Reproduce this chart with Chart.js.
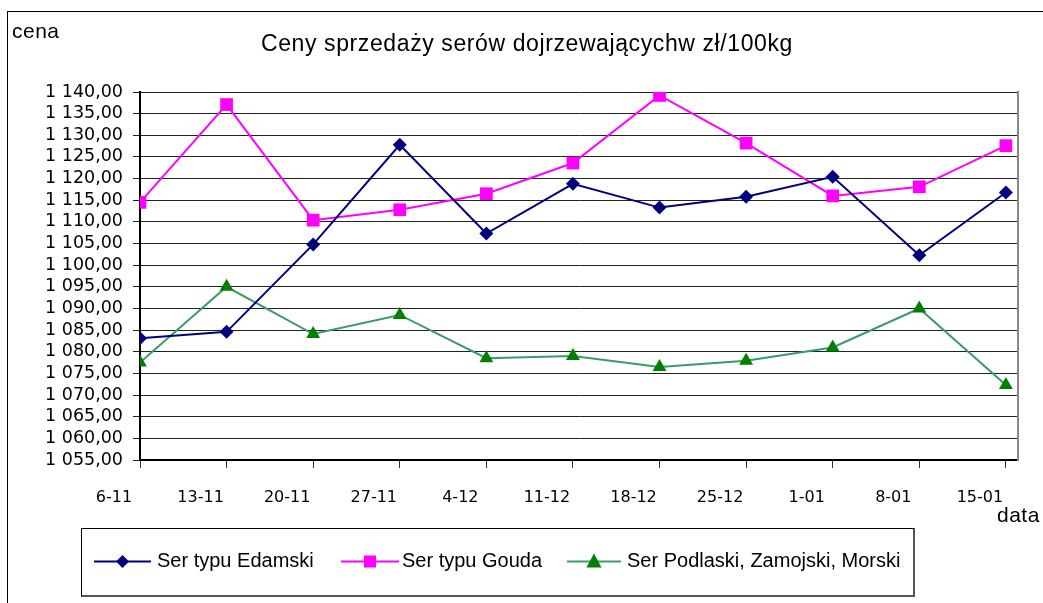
<!DOCTYPE html>
<html>
<head>
<meta charset="utf-8">
<script src="https://cdn.jsdelivr.net/npm/chart.js@4/dist/chart.umd.min.js"></script>
<style>
  body { margin: 0; background: #fff; }
  #wrap { position: relative; width: 1043px; height: 603px; overflow: hidden; }
  #frame { position: absolute; left: 7px; top: 11px; width: 1100px; height: 700px; border: 1.5px solid #000; }
  canvas { position: absolute; left: 0; top: 0; }
  .txt { position: absolute; white-space: nowrap; font-family: "Liberation Sans", Arial, sans-serif; line-height: 1; color: #000; }
  #title { left: 527px; top: 32px; font-size: 23px; letter-spacing: 0.6px; transform: translateX(-50%); }
  #cena { left: 12px; top: 20px; font-size: 21px; letter-spacing: 0.5px; }
  #data { left: 997px; top: 504px; font-size: 21px; letter-spacing: 0.5px; }
  #legend { position: absolute; left: 81px; top: 528px; width: 831px; height: 66px; border: 1px solid #000; border-right: 2px solid #555; border-bottom: 2px solid #555; }
  .leg { font-size: 20px; top: 550px; }
  svg { position: absolute; left: 0; top: 0; }
</style>
</head>
<body>
<div id="wrap">
  <div id="frame"></div>
  <canvas id="lineChart" width="1043" height="603"></canvas>
  <div class="txt" id="title">Ceny sprzedaży serów dojrzewającychw zł/100kg</div>
  <div class="txt" id="cena">cena</div>
  <div class="txt" id="data">data</div>
  <div id="legend"></div>
  <svg id="legSym" width="1043" height="603"></svg>
</div>
<script>
var labels = ['6-11', '13-11', '20-11', '27-11', '4-12', '11-12', '18-12', '25-12', '1-01', '8-01', '15-01'];
var edamski = [1083.1, 1084.6, 1104.8, 1127.8, 1107.3, 1118.8, 1113.3, 1115.8, 1120.4, 1102.3, 1116.8];
var gouda = [1114.5, 1137.1, 1110.4, 1112.8, 1116.5, 1123.6, 1139.2, 1128.2, 1116.0, 1118.1, 1127.6];
var podlaski = [1077.5, 1095.0, 1084.1, 1088.5, 1078.5, 1079.0, 1076.5, 1077.9, 1081.0, 1090.0, 1072.3];
var seriesNames = ['Ser typu Edamski', 'Ser typu Gouda', 'Ser Podlaski, Zamojski, Morski'];

function points(values) {
	return values.map((v, i) => ({ x: i, y: v }));
}

function fmt(v) {
	var t = Math.floor(v / 1000);
	var r = String(Math.round(v % 1000)).padStart(3, '0');
	return t + ' ' + r + ',00';
}

function lineChart() {
	var ctx = document.getElementById('lineChart').getContext('2d');
	return new Chart(ctx, {
		type: 'line',
		data: {
			datasets: [
				{
					label: seriesNames[0],
					data: points(edamski),
					borderColor: '#000080',
					backgroundColor: '#000080',
					borderWidth: 2,
					pointStyle: 'rectRot',
					pointRadius: 7,
					pointBorderWidth: 0
				},
				{
					label: seriesNames[1],
					data: points(gouda),
					borderColor: '#ff00ff',
					backgroundColor: '#ff00ff',
					borderWidth: 2,
					pointStyle: 'rect',
					pointRadius: 9,
					pointBorderWidth: 0
				},
				{
					label: seriesNames[2],
					data: points(podlaski),
					borderColor: '#3a9a6a',
					backgroundColor: '#008000',
					borderWidth: 2,
					pointStyle: 'triangle',
					pointRadius: 8,
					pointBorderWidth: 0
				}
			]
		},
		options: {
			responsive: false,
			animation: false,
			devicePixelRatio: 1,
			layout: { padding: { left: 0, right: 25, top: 92, bottom: 0 } },
			plugins: { legend: { display: false }, tooltip: { enabled: false } },
			scales: {
				x: {
					type: 'linear',
					min: 0,
					max: 10.14,
					afterFit: s => { s.height = 143; s.paddingLeft = 0; s.paddingRight = 0; },
					border: { color: '#000', width: 2 },
					grid: { drawOnChartArea: false, tickLength: 8, color: '#333' },
					ticks: {
						stepSize: 1,
						includeBounds: false,
						autoSkip: false,
						maxRotation: 0,
						labelOffset: -26,
						padding: 20,
						color: '#000',
						font: { family: 'DejaVu Sans', size: 16 },
						callback: v => labels[v]
					}
				},
				y: {
					min: 1055,
					max: 1140,
					afterFit: s => { s.width = 140; s.paddingTop = 0; s.paddingBottom = 0; },
					border: { color: '#000', width: 2 },
					grid: { color: '#222', lineWidth: 1, tickLength: 7 },
					ticks: {
						stepSize: 5,
						autoSkip: false,
						padding: 10,
						color: '#000',
						font: { family: 'DejaVu Sans', size: 17.5 },
						callback: v => fmt(v)
					}
				},
				y2: {
					position: 'right',
					min: 0,
					max: 1,
					afterFit: s => { s.width = 0; },
					border: { color: '#888', width: 2 },
					grid: { display: false },
					ticks: { display: false }
				}
			}
		}
	});
}

function drawLegend(chart) {
	var svg = document.getElementById('legSym');
	var lines = [[94, 151], [341, 399], [567, 621]];
	var textX = [157, 402, 627];
	var y = 561.5;
	var out = '';
	chart.data.datasets.forEach((ds, i) => {
		var a = lines[i][0], b = lines[i][1], c = (a + b) / 2;
		out += '<line x1="' + a + '" y1="' + y + '" x2="' + b + '" y2="' + y + '" stroke="' + ds.borderColor + '" stroke-width="2"/>';
		if (ds.pointStyle == 'rectRot') {
			out += '<polygon points="' + c + ',' + (y - 6.5) + ' ' + (c + 6.5) + ',' + y + ' ' + c + ',' + (y + 6.5) + ' ' + (c - 6.5) + ',' + y + '" fill="' + ds.backgroundColor + '"/>';
		} else if (ds.pointStyle == 'rect') {
			out += '<rect x="' + (c - 6) + '" y="' + (y - 6) + '" width="12" height="12" fill="' + ds.backgroundColor + '"/>';
		} else {
			out += '<polygon points="' + c + ',' + (y - 8) + ' ' + (c + 7.5) + ',' + (y + 6) + ' ' + (c - 7.5) + ',' + (y + 6) + '" fill="' + ds.backgroundColor + '"/>';
		}
		var d = document.createElement('div');
		d.className = 'txt leg';
		d.style.left = textX[i] + 'px';
		d.textContent = ds.label;
		document.getElementById('wrap').appendChild(d);
	});
	svg.innerHTML = out;
}

var chart = lineChart();
drawLegend(chart);
</script>
</body>
</html>
